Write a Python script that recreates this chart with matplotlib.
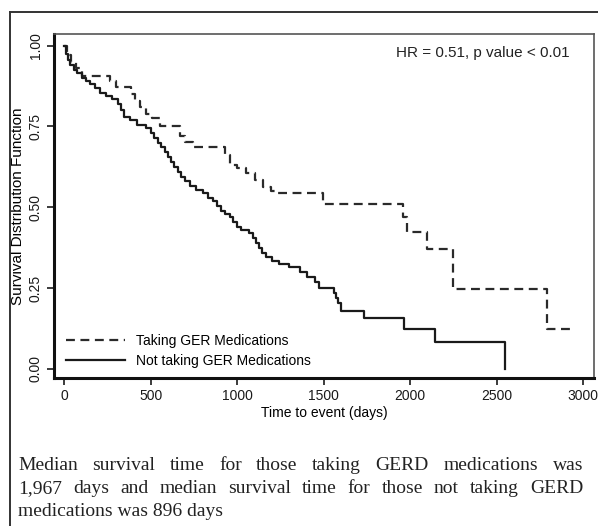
import matplotlib
matplotlib.use('Agg')
import matplotlib.pyplot as plt
from matplotlib.lines import Line2D

# %% Data (Kaplan-Meier step points)
t_taking = [0, 15, 40, 70, 100, 265, 300, 385, 410, 440, 470, 505, 555, 670, 700,
            745, 930, 960, 1000, 1050, 1100, 1150, 1195, 1225, 1497, 1960, 1980,
            2095, 2249, 2788, 2952]
s_taking = [1.0, 0.97, 0.95, 0.93, 0.906, 0.89, 0.873, 0.85, 0.83, 0.81, 0.79, 0.775,
            0.75, 0.72, 0.703, 0.688, 0.662, 0.631, 0.62, 0.605, 0.585, 0.564, 0.549,
            0.543, 0.509, 0.471, 0.423, 0.371, 0.2465, 0.124, 0.124]

t_not = [0, 10, 20, 35, 55, 75, 100, 125, 150, 175, 205, 240, 275, 310, 330, 345,
         380, 420, 470, 500, 520, 540, 560, 580, 600, 615, 635, 655, 675, 700, 725,
         760, 800, 830, 860, 885, 905, 930, 955, 975, 1000, 1020, 1070, 1090, 1105,
         1125, 1145, 1165, 1200, 1240, 1300, 1360, 1400, 1450, 1470, 1560, 1570,
         1580, 1600, 1730, 1965, 2140, 2547]
s_not = [1.0, 0.975, 0.955, 0.94, 0.925, 0.915, 0.9, 0.89, 0.88, 0.868, 0.855, 0.845,
         0.835, 0.82, 0.80, 0.78, 0.77, 0.755, 0.745, 0.73, 0.715, 0.70, 0.685, 0.67,
         0.655, 0.64, 0.625, 0.61, 0.595, 0.58, 0.565, 0.555, 0.545, 0.53, 0.52,
         0.505, 0.49, 0.48, 0.47, 0.455, 0.44, 0.43, 0.42, 0.405, 0.39, 0.375, 0.36,
         0.345, 0.333, 0.325, 0.315, 0.30, 0.285, 0.27, 0.25, 0.235, 0.22, 0.205,
         0.18, 0.157, 0.124, 0.083, 0.0]

x_ticks = [0, 500, 1000, 1500, 2000, 2500, 3000]
y_ticks = [0.0, 0.25, 0.5, 0.75, 1.0]
y_ticklabels = ['0.00', '0.25', '0.50', '0.75', '1.00']

legend_labels = ['Taking GER Medications', 'Not taking GER Medications']
annot = 'HR = 0.51, p value < 0.01'
caption = ['Median survival time for those taking GERD medications was',
           '1,967 days and median survival time for those not taking GERD',
           'medications was 896 days']

# %% Figure
W, H = 598, 526
fig = plt.figure(figsize=(W / 100, H / 100), dpi=100)
plt.rcParams['font.family'] = ['Liberation Sans', 'DejaVu Sans']

ax = fig.add_axes([54 / W, 1 - 378 / H, 540 / W, 344 / H])
ax.step(t_taking, s_taking, where='post', color='#2a2a2a', lw=1.6,
        dashes=(4, 2.5))
ax.step(t_not, s_not, where='post', color='#1a1a1a', lw=1.6)

ax.set_xlim(-60, 3062)
ax.set_ylim(-0.028, 1.036)
ax.set_xticks(x_ticks)
ax.set_yticks(y_ticks)
ax.set_yticklabels(y_ticklabels, rotation=90, va='center')
ax.tick_params(axis='both', labelsize=10, length=5, width=1.2,
               colors='#1a1a1a', pad=3)
for s in ['left', 'bottom']:
    ax.spines[s].set_linewidth(2.2)
    ax.spines[s].set_color('#111111')
for s in ['top', 'right']:
    ax.spines[s].set_linewidth(1.2)
    ax.spines[s].set_color('#555555')

ax.set_xlabel('Time to event (days)', fontsize=10, labelpad=2)
ax.set_ylabel('Survival Distribution Function', fontsize=11, labelpad=3)

ax.text(0.955, 0.965, annot, transform=ax.transAxes, ha='right', va='top',
        fontsize=11, color='#222222')

handles = [Line2D([], [], color='#2a2a2a', lw=1.6, dashes=(4, 2.5)),
           Line2D([], [], color='#1a1a1a', lw=1.6)]
ax.legend(handles, legend_labels, loc='lower left', frameon=False,
          fontsize=10, handlelength=4.2, handletextpad=0.8,
          labelspacing=0.45, bbox_to_anchor=(0.005, 0.0), borderaxespad=0.3)

# outer frame
fig.add_artist(Line2D([10 / W, 1.0], [1 - 12 / H, 1 - 12 / H],
                      transform=fig.transFigure, color='#333333', lw=1.4))
fig.add_artist(Line2D([10 / W, 10 / W], [1 - 12 / H, 0.0],
                      transform=fig.transFigure, color='#333333', lw=1.4))

# caption, justified like the reference
renderer = fig.canvas.get_renderer()
x0, x1 = 18, 583
baselines = [470, 493, 516]
cap_font = dict(family=['Liberation Serif', 'DejaVu Serif'], fontsize=14,
                color='#222222')
for i, line in enumerate(caption):
    y = 1 - baselines[i] / H
    words = line.split(' ')
    if i == len(caption) - 1:
        fig.text(x0 / W, y, line, va='baseline', ha='left', **cap_font)
        continue
    texts = [fig.text(0, y, w, va='baseline', ha='left', **cap_font) for w in words]
    widths = [t.get_window_extent(renderer).width for t in texts]
    gap = (x1 - x0 - sum(widths)) / (len(words) - 1)
    pos = x0
    for t, w in zip(texts, widths):
        t.set_x(pos / W)
        pos += w + gap

fig.savefig('out.png', dpi=100)
